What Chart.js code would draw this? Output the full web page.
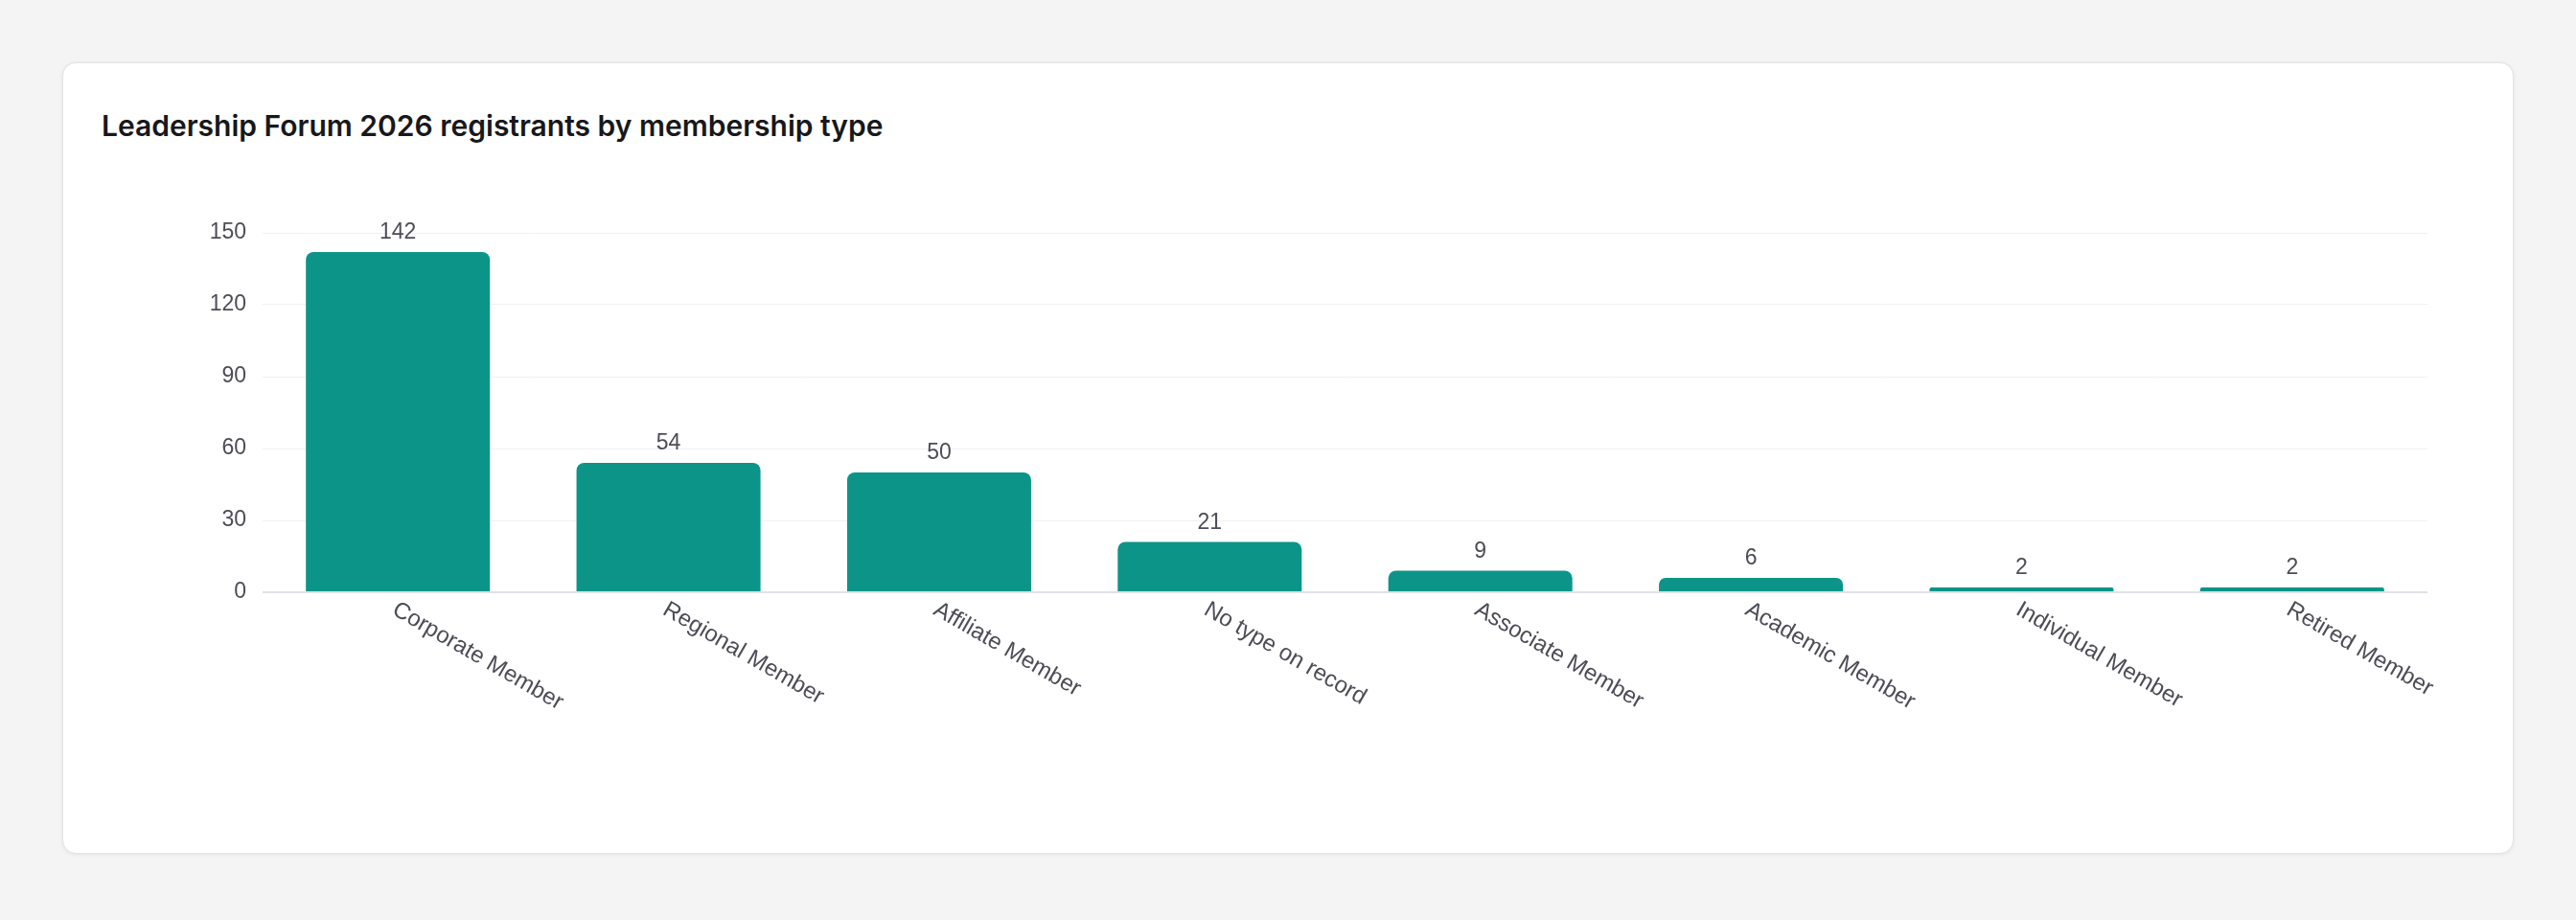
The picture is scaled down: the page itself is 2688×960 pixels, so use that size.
<!DOCTYPE html>
<html>
<head>
<meta charset="utf-8">
<script src="https://cdn.jsdelivr.net/npm/chart.js@4.4.1/dist/chart.umd.min.js"></script>
<style>
  html, body { margin: 0; padding: 0; }
  body { width: 2688px; height: 960px; background: #f4f4f4; position: relative; overflow: hidden; }
  .card {
    position: absolute; left: 65px; top: 65px; width: 2558px; height: 826px;
    box-sizing: border-box; background: #fff; border: 1px solid #e3e3e6;
    border-radius: 14px; box-shadow: 0 1px 4px rgba(0,0,0,0.07);
  }
  .title {
    position: absolute; left: 40px; top: 50px; margin: 0;
    font-family: Inter, "Helvetica Neue", Arial, sans-serif; font-weight: 600;
    font-size: 30px; line-height: 30px; color: #18181b;
  }
  .plot { position: absolute; left: 0; top: 139px; width: 2556px; height: 660px; }
</style>
</head>
<body>
<div class="card">
  <h2 class="title">Leadership Forum 2026 registrants by membership type</h2>
  <div class="plot"><canvas id="registrantsChart"></canvas></div>
</div>
<script>
// membership types and registrant counts
const categories = ['Corporate Member', 'Regional Member', 'Affiliate Member', 'No type on record',
  'Associate Member', 'Academic Member', 'Individual Member', 'Retired Member'];
const registrants = [142, 54, 50, 21, 9, 6, 2, 2];
const yTicks = [0, 30, 60, 90, 120, 150];

const textColor = '#4d4d57';
Chart.defaults.font.family = '"Helvetica Neue", Helvetica, Arial, "Liberation Sans", sans-serif';
Chart.defaults.font.size = 23;
Chart.defaults.color = textColor;

// value labels above each bar
const barValues = {
  id: 'barValues',
  afterDatasetsDraw(chart) {
    const ctx = chart.ctx;
    const meta = chart.getDatasetMeta(0);
    ctx.save();
    ctx.font = '23px ' + Chart.defaults.font.family;
    ctx.fillStyle = textColor;
    ctx.textAlign = 'center';
    ctx.textBaseline = 'alphabetic';
    meta.data.forEach((bar, i) => {
      ctx.fillText(String(registrants[i]), bar.x, bar.y - 14);
    });
    ctx.restore();
  }
};

// category labels slanting down to the right from each tick
const slantedLabels = {
  id: 'slantedLabels',
  afterDraw(chart) {
    const ctx = chart.ctx;
    const xScale = chart.scales.x;
    const baseY = chart.chartArea.bottom + 6;
    ctx.save();
    ctx.font = '24px ' + Chart.defaults.font.family;
    ctx.fillStyle = textColor;
    ctx.textAlign = 'left';
    ctx.textBaseline = 'top';
    categories.forEach((label, i) => {
      const x = xScale.getPixelForValue(i);
      ctx.save();
      ctx.translate(x + 2, baseY);
      ctx.rotate(Math.PI / 6);
      ctx.fillText(label, 0, 0);
      ctx.restore();
    });
    ctx.restore();
  }
};

const ctx = document.getElementById('registrantsChart').getContext('2d');

const registrantsChart = new Chart(ctx, {
  type: 'bar',
  data: {
    labels: categories,
    datasets: [{
      label: 'Registrants',
      data: registrants,
      backgroundColor: '#0d9488',
      borderRadius: 8,
      borderSkipped: 'bottom',
      categoryPercentage: 0.8,
      barPercentage: 0.85,
    }],
  },
  options: {
    responsive: true,
    maintainAspectRatio: false,
    animation: false,
    layout: { padding: { top: 38, right: 89, left: 0, bottom: 0 } },
    plugins: {
      legend: { display: false },
      tooltip: { enabled: false },
      title: { display: false },
    },
    scales: {
      x: {
        grid: { display: false },
        border: { display: false },
        ticks: { display: false },
        afterFit(scale) { scale.height = 247; },
      },
      y: {
        min: 0,
        max: 150,
        border: { display: false },
        grid: {
          drawTicks: false,
          color: (c) => (c.tick && c.tick.value === 0 ? '#e1e1e6' : '#eff1f4'),
          lineWidth: (c) => (c.tick && c.tick.value === 0 ? 2 : 1),
        },
        afterBuildTicks(scale) { scale.ticks = yTicks.map(v => ({ value: v })); },
        ticks: { padding: 17, color: textColor },
        afterFit(scale) { scale.width = 208; },
      },
    },
  },
  plugins: [barValues, slantedLabels],
});
</script>
</body>
</html>
